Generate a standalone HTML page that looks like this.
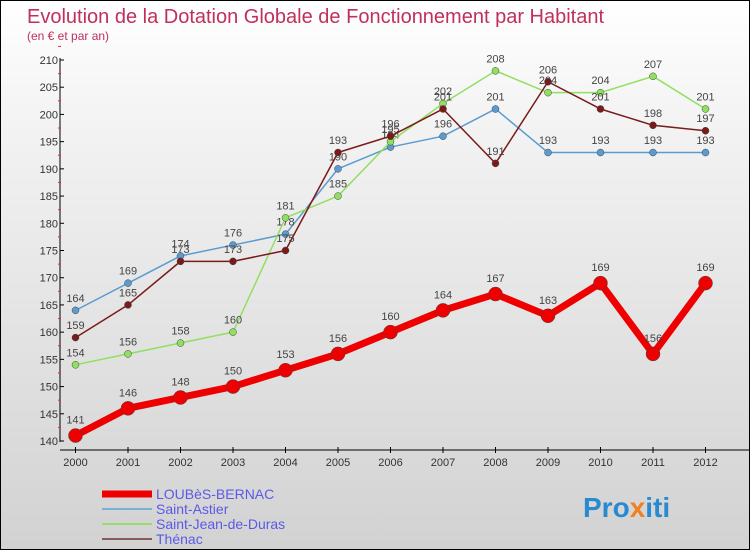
<!DOCTYPE html>
<html><head><meta charset="utf-8"><style>
body{margin:0}
#wrap{width:748px;height:548px;border:1px solid #000;background:linear-gradient(#fff 0%,#f4f4f4 20%,#d2d2d2 100%);position:relative;font-family:"Liberation Sans",sans-serif;overflow:hidden}
</style></head><body>
<div id="wrap">
<svg id="chart" width="748" height="548">
<text x="26" y="22" font-size="20" fill="#c0305a">Evolution de la Dotation Globale de Fonctionnement par Habitant</text>
<text x="26" y="39" font-size="12" fill="#c0305a">(en € et par an)</text>
<g id="axes"></g><g id="series"></g><g id="legend"></g>
<text x="582" y="516" font-size="28" font-weight="bold" fill="#2a8ad0">Pro<tspan fill="#f08020">x</tspan>iti</text>
</svg></div>
<script>
const years=[2000,2001,2002,2003,2004,2005,2006,2007,2008,2009,2010,2011,2012];
const yTicks=[140,145,150,155,160,165,170,175,180,185,190,195,200,205,210];
const loubes=[141,146,148,150,153,156,160,164,167,163,169,156,169];
const astier=[164,169,174,176,178,190,194,196,201,193,193,193,193];
const jean=[154,156,158,160,181,185,195,202,208,204,204,207,201];
const thenac=[159,165,173,173,175,193,196,201,191,206,201,198,197];
const NS="http://www.w3.org/2000/svg";
function x(i){return 74.5+i*52.5;}
function y(v){return 440-(v-140)*5.443;}
function mk(t,a,p){const e=document.createElementNS(NS,t);for(const k in a)e.setAttribute(k,a[k]);p.appendChild(e);return e;}
const ax=document.getElementById('axes');
let l=mk('line',{x1:59,y1:57,x2:59,y2:441,stroke:'#000'},ax);


l=mk('line',{x1:59,y1:449,x2:748,y2:449,stroke:'#000'},ax);


yTicks.forEach(v=>{mk('line',{x1:59,y1:y(v),x2:63,y2:y(v),stroke:'#000'},ax);
 mk('line',{x1:57,y1:y(v+2.5),x2:60,y2:y(v+2.5),stroke:'#e03030'},ax);
 const t=mk('text',{x:57,y:y(v)+4,'font-size':11,'text-anchor':'end',fill:'#333'},ax);t.textContent=v;
 
 });
years.forEach((yr,i)=>{mk('line',{x1:x(i),y1:446,x2:x(i),y2:452,stroke:'#000'},ax);
 const t=mk('text',{x:x(i),y:465,'font-size':11,'text-anchor':'middle',fill:'#333'},ax);t.textContent=yr;
 
 });
const sg=document.getElementById('series');
const defs=[[astier,'#5b9bd0',1.5,3.5,'saint-astier'],[jean,'#90e060',1.5,3.5,'saint-jean-de-duras'],[thenac,'#7a1a1a',1.5,3.5,'thenac'],[loubes,'#ee0000',7,7,'loubes-bernac']];
defs.forEach(([d,c,w,r,n])=>{
 const g=mk('g',{},sg);
 
 
 const p=mk('polyline',{points:d.map((v,i)=>x(i)+','+y(v)).join(' '),fill:'none',stroke:c,'stroke-width':w,'stroke-linejoin':'round'},g);
 
 
 d.forEach((v,i)=>{const ci=mk('circle',{cx:x(i),cy:y(v),r:r,fill:c,stroke:'#444','stroke-width':0.5},g);
  
  
  const t=mk('text',{x:x(i),y:y(v)-(r+5),'font-size':11,'text-anchor':'middle',fill:'#444'},g);t.textContent=v;
  
  });
});
const lg=document.getElementById('legend');
const items=[['LOUBèS-BERNAC','#ee0000',7],['Saint-Astier','#7ab0d8',2],['Saint-Jean-de-Duras','#98dc70',2],['Thénac','#8a5a5a',2]];
items.forEach(([n,c,w],i)=>{const yy=493+i*15;
 const g=mk('g',{},lg);
 
 
 mk('line',{x1:101,y1:yy,x2:151,y2:yy,stroke:c,'stroke-width':w},g);
 const t=mk('text',{x:155,y:yy+5,'font-size':14,fill:'#5a5ae8'},g);t.textContent=n;});
</script>
</body></html>
